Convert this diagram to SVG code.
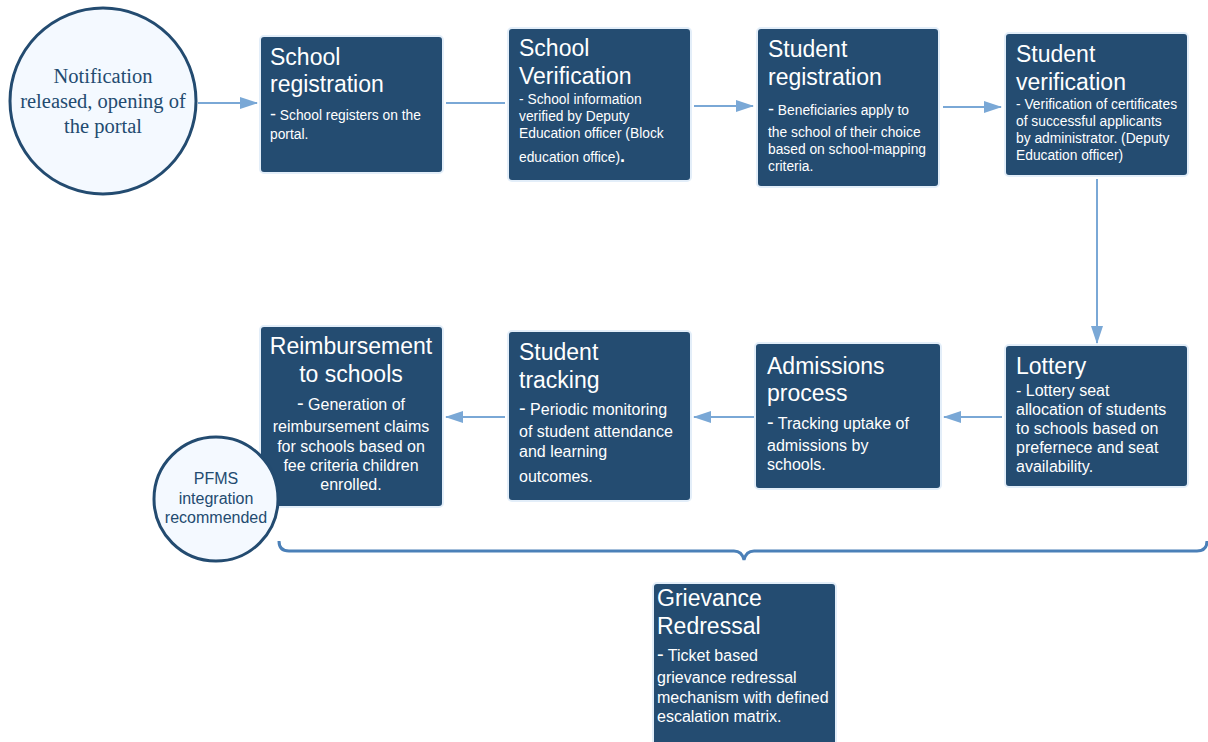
<svg xmlns="http://www.w3.org/2000/svg" width="1208" height="742" viewBox="0 0 1208 742">
<defs>
<marker id="ah" markerWidth="18" markerHeight="12" refX="17" refY="6" orient="auto" markerUnits="userSpaceOnUse">
<path d="M0,0 L18,6 L0,12 Z" fill="#7aa8d6"/>
</marker>
<style>
.box{fill:#244c71;stroke:#e3eef9;stroke-width:2}
.t{font-family:"Liberation Sans",Arial,sans-serif;font-size:23px;fill:#ffffff}
.b{font-family:"Liberation Sans",Arial,sans-serif;font-size:13.8px;fill:#ffffff}
.bl{font-family:"Liberation Sans",Arial,sans-serif;font-size:16px;fill:#ffffff}
.c{fill:#f4f9ff;stroke:#234b70;stroke-width:3}
.conn{stroke:#7aa8d6;stroke-width:2;fill:none}
</style>
</defs>
<rect width="1208" height="742" fill="#ffffff"/>
<g id="connectors">
<line class="conn" x1="198" y1="103" x2="257" y2="103" marker-end="url(#ah)"/>
<line class="conn" x1="446" y1="103" x2="505" y2="103"/>
<line class="conn" x1="694" y1="106" x2="753" y2="106" marker-end="url(#ah)"/>
<line class="conn" x1="943" y1="107" x2="1001" y2="107" marker-end="url(#ah)"/>
<line class="conn" x1="1097" y1="179" x2="1097" y2="343" marker-end="url(#ah)"/>
<line class="conn" x1="1002" y1="417" x2="944" y2="417" marker-end="url(#ah)"/>
<line class="conn" x1="754" y1="417" x2="694" y2="417" marker-end="url(#ah)"/>
<line class="conn" x1="505" y1="417" x2="446" y2="417" marker-end="url(#ah)"/>
<path d="M279,541 Q279,551 289,551 L734,551 Q742,551 744,560 Q746,551 754,551 L1197,551 Q1207,551 1207,541" fill="none" stroke="#4b80b8" stroke-width="3"/>
</g>
<g id="n-notification">
<circle class="c" cx="103" cy="101" r="93"/>
<text font-family="'Liberation Serif','Times New Roman',serif" font-size="20.5" fill="#234b70" text-anchor="middle"><tspan x="103" y="83">Notification</tspan><tspan x="103" y="108">released, opening of</tspan><tspan x="103" y="133">the portal</tspan></text>
</g>
<g id="n-school-registration">
<rect class="box" x="260" y="36" width="183" height="137" rx="4"/>
<text class="t"><tspan x="270" y="65">School</tspan><tspan x="270" y="92">registration</tspan></text>
<text class="b"><tspan x="270" y="120"><tspan font-size="18">-</tspan> School registers on the</tspan><tspan x="270" y="139">portal.</tspan></text>
</g>
<g id="n-school-verification">
<rect class="box" x="508" y="28" width="183" height="153" rx="4"/>
<text class="t"><tspan x="519" y="56">School</tspan><tspan x="519" y="84">Verification</tspan></text>
<text class="b"><tspan x="519" y="104">- School information</tspan><tspan x="519" y="121">verified by Deputy</tspan><tspan x="519" y="138">Education officer (Block</tspan><tspan x="519" y="162">education office)<tspan font-size="18" font-weight="bold">.</tspan></tspan></text>
</g>
<g id="n-student-registration">
<rect class="box" x="757" y="28" width="182" height="159" rx="4"/>
<text class="t"><tspan x="768" y="57">Student</tspan><tspan x="768" y="85">registration</tspan></text>
<text class="b"><tspan x="768" y="115"><tspan font-size="18">-</tspan>  Beneficiaries apply to</tspan><tspan x="768" y="137">the school of their choice</tspan><tspan x="768" y="154">based on school-mapping</tspan><tspan x="768" y="171">criteria.</tspan></text>
</g>
<g id="n-student-verification">
<rect class="box" x="1005" y="33" width="183" height="143" rx="4"/>
<text class="t"><tspan x="1016" y="62">Student</tspan><tspan x="1016" y="90">verification</tspan></text>
<text class="b"><tspan x="1016" y="109">- Verification of certificates</tspan><tspan x="1016" y="126">of successful applicants</tspan><tspan x="1016" y="143">by administrator. (Deputy</tspan><tspan x="1016" y="160">Education officer)</tspan></text>
</g>
<g id="n-lottery">
<rect class="box" x="1005" y="345" width="183" height="142" rx="4"/>
<text class="t"><tspan x="1016" y="374">Lottery</tspan></text>
<text class="bl"><tspan x="1016" y="396">- Lottery seat</tspan><tspan x="1016" y="415">allocation of students</tspan><tspan x="1016" y="434">to schools based on</tspan><tspan x="1016" y="453">prefernece and seat</tspan><tspan x="1016" y="472">availability.</tspan></text>
</g>
<g id="n-admissions">
<rect class="box" x="755" y="343" width="186" height="146" rx="4"/>
<text class="t"><tspan x="767" y="374">Admissions</tspan><tspan x="767" y="401">process</tspan></text>
<text class="bl"><tspan x="767" y="429"><tspan font-size="20">-</tspan>  Tracking uptake of</tspan><tspan x="767" y="451">admissions by</tspan><tspan x="767" y="470">schools.</tspan></text>
</g>
<g id="n-student-tracking">
<rect class="box" x="508" y="331" width="183" height="170" rx="4"/>
<text class="t"><tspan x="519" y="360">Student</tspan><tspan x="519" y="388">tracking</tspan></text>
<text class="bl"><tspan x="519" y="415"><tspan font-size="20">-</tspan>  Periodic monitoring</tspan><tspan x="519" y="437">of student attendance</tspan><tspan x="519" y="457">and learning</tspan><tspan x="519" y="482">outcomes.</tspan></text>
</g>
<g id="n-reimbursement">
<rect class="box" x="260" y="326" width="183" height="181" rx="4"/>
<text class="t" text-anchor="middle"><tspan x="351" y="354">Reimbursement</tspan><tspan x="351" y="382">to schools</tspan></text>
<text class="bl" text-anchor="middle"><tspan x="351" y="410"><tspan font-size="20">-</tspan> Generation of</tspan><tspan x="351" y="432">reimbursement claims</tspan><tspan x="351" y="452">for schools based on</tspan><tspan x="351" y="471">fee criteria children</tspan><tspan x="351" y="490">enrolled.</tspan></text>
</g>
<g id="n-pfms">
<circle class="c" cx="216" cy="499" r="62"/>
<text font-family="'Liberation Sans',Arial,sans-serif" font-size="16" fill="#234b70" text-anchor="middle"><tspan x="216" y="484">PFMS</tspan><tspan x="216" y="504">integration</tspan><tspan x="216" y="523">recommended</tspan></text>
</g>
<g id="n-grievance">
<rect class="box" x="653" y="583" width="183" height="170" rx="4"/>
<text class="t"><tspan x="657" y="606">Grievance</tspan><tspan x="657" y="634">Redressal</tspan></text>
<text class="bl"><tspan x="657" y="661"><tspan font-size="20">-</tspan>  Ticket based</tspan><tspan x="657" y="683">grievance redressal</tspan><tspan x="657" y="703">mechanism with defined</tspan><tspan x="657" y="722">escalation matrix.</tspan></text>
</g>
</svg>
